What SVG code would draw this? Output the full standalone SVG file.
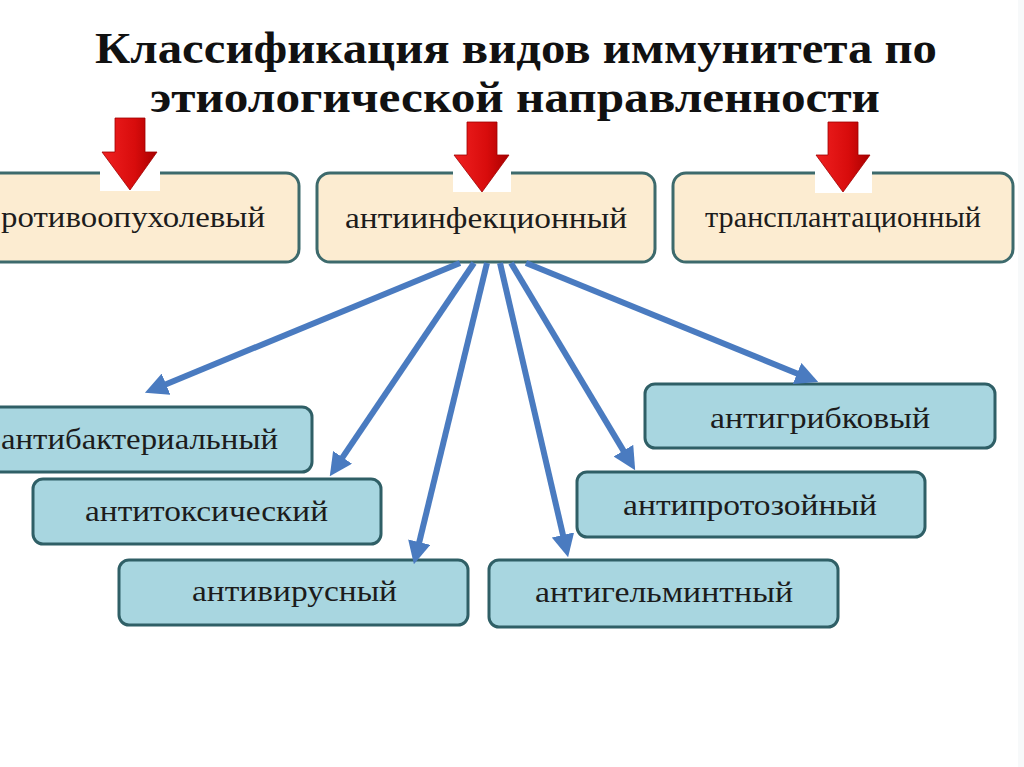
<svg xmlns="http://www.w3.org/2000/svg" width="1024" height="767" viewBox="0 0 1024 767">
<defs>
<style>
.title{font-family:"Liberation Serif","Times New Roman",serif;font-weight:bold;font-size:44px;fill:#111}
.lbl{font-family:"Liberation Serif","Times New Roman",serif;font-size:30px;fill:#1c1c1c}
.top{fill:#fcecd1;stroke:#3d6a6c;stroke-width:3}
.sub{fill:#a8d6e0;stroke:#2f5f66;stroke-width:3}
.patch{fill:#ffffff}
.red{fill:url(#redg);stroke:#a00000;stroke-width:0.8}
.con{stroke:#4a7bc0;stroke-width:6;fill:none;marker-end:url(#ah)}
</style>
<linearGradient id="redg" x1="0" y1="0" x2="1" y2="0">
<stop offset="0" stop-color="#f02020"/>
<stop offset="0.6" stop-color="#d80c0c"/>
<stop offset="1" stop-color="#a80000"/>
</linearGradient>
<marker id="ah" viewBox="0 0 10 10" refX="2" refY="5" markerWidth="3.8" markerHeight="3.8" orient="auto" markerUnits="strokeWidth">
<path d="M0,0 L10,5 L0,10 z" fill="#4a7bc0"/>
</marker>
</defs>
<rect x="0" y="0" width="1024" height="767" fill="#ffffff"/>
<rect x="1018" y="0" width="6" height="767" fill="#f7f9fa"/>

<g id="title">
<text class="title" x="95" y="63" textLength="842" lengthAdjust="spacingAndGlyphs">Классификация видов иммунитета по</text>
<text class="title" x="150" y="112" textLength="730" lengthAdjust="spacingAndGlyphs">этиологической направленности</text>
</g>

<g id="node-antitumor">
<rect class="top" x="-20" y="173" width="319" height="89" rx="13"/>
<text class="lbl" x="1" y="227" textLength="264" lengthAdjust="spacingAndGlyphs">ротивоопухолевый</text>
</g>
<g id="node-antiinfection">
<rect class="top" x="317" y="173" width="338" height="89" rx="13"/>
<text class="lbl" x="345" y="228" textLength="282" lengthAdjust="spacingAndGlyphs">антиинфекционный</text>
</g>
<g id="node-transplant">
<rect class="top" x="673" y="173" width="340" height="89" rx="13"/>
<text class="lbl" x="705" y="227" textLength="276" lengthAdjust="spacingAndGlyphs">трансплантационный</text>
</g>

<g id="red-arrow-1">
<rect class="patch" x="100" y="171" width="60" height="20"/>
<path class="red" d="M115,118 L145,118 L145,152 L157,152 L130,190 L102,152 L115,152 z"/>
</g>
<g id="red-arrow-2">
<rect class="patch" x="453" y="171" width="58" height="21"/>
<path class="red" d="M467,122 L497,122 L497,155 L509,155 L482,192 L454,155 L467,155 z"/>
</g>
<g id="red-arrow-3">
<rect class="patch" x="815" y="171" width="57" height="22"/>
<path class="red" d="M828,122 L858,122 L858,155 L870,155 L843,192 L816,155 L828,155 z"/>
</g>

<g id="node-antibacterial">
<rect class="sub" x="-20" y="407" width="332" height="65" rx="10"/>
<text class="lbl" x="1" y="449" textLength="277" lengthAdjust="spacingAndGlyphs">антибактериальный</text>
</g>
<g id="node-antitoxic">
<rect class="sub" x="33" y="479" width="348" height="65" rx="10"/>
<text class="lbl" x="85" y="521" textLength="243" lengthAdjust="spacingAndGlyphs">антитоксический</text>
</g>
<g id="node-antiviral">
<rect class="sub" x="119" y="560" width="349" height="65" rx="10"/>
<text class="lbl" x="192" y="601" textLength="205" lengthAdjust="spacingAndGlyphs">антивирусный</text>
</g>
<g id="node-antifungal">
<rect class="sub" x="645" y="384" width="350" height="64" rx="10"/>
<text class="lbl" x="710" y="428" textLength="220" lengthAdjust="spacingAndGlyphs">антигрибковый</text>
</g>
<g id="node-antiprotozoal">
<rect class="sub" x="577" y="472" width="348" height="65" rx="10"/>
<text class="lbl" x="623" y="515" textLength="254" lengthAdjust="spacingAndGlyphs">антипротозойный</text>
</g>
<g id="node-antihelminthic">
<rect class="sub" x="489" y="560" width="349" height="67" rx="10"/>
<text class="lbl" x="535" y="602" textLength="258" lengthAdjust="spacingAndGlyphs">антигельминтный</text>
</g>

<g id="connectors">
<line class="con" x1="460" y1="263" x2="161.8" y2="385.9"/>
<line class="con" x1="474" y1="263" x2="340" y2="461.1"/>
<line class="con" x1="487" y1="263" x2="418.2" y2="546.5"/>
<line class="con" x1="500" y1="263" x2="564" y2="539.4"/>
<line class="con" x1="511" y1="263" x2="625.8" y2="454.6"/>
<line class="con" x1="526" y1="263" x2="801.3" y2="375.2"/>
</g>
</svg>
